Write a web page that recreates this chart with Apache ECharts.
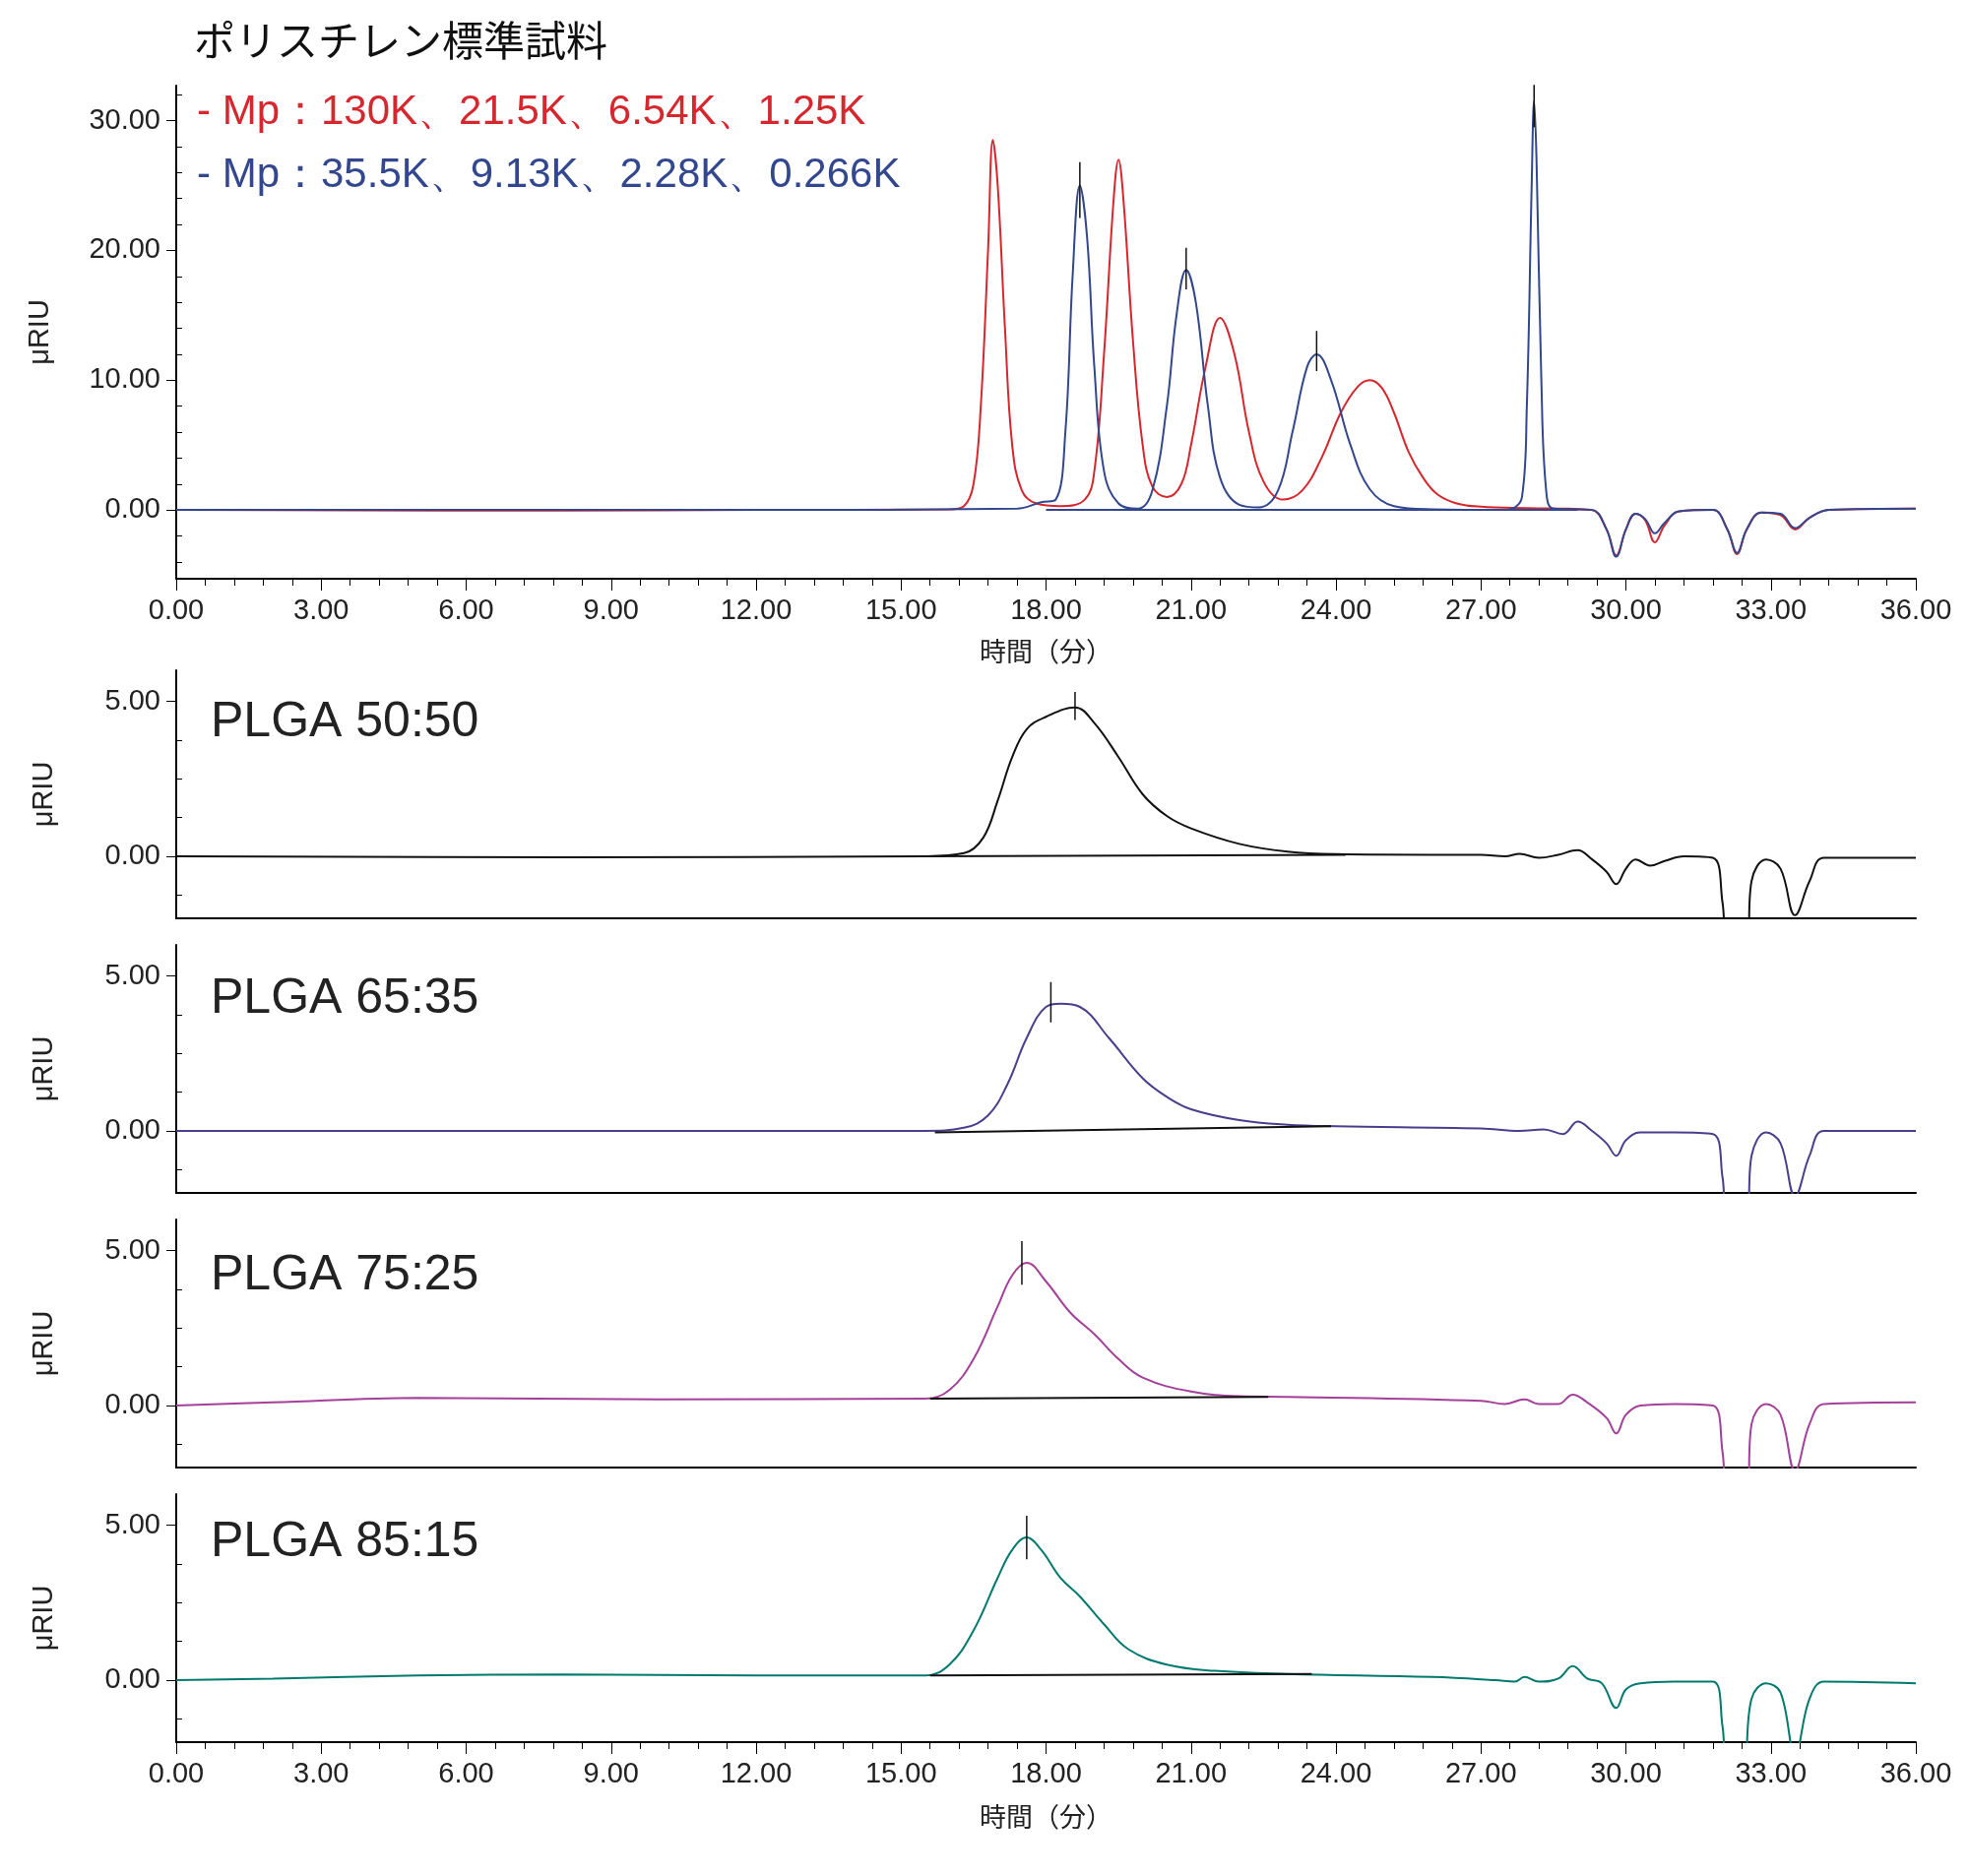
<!DOCTYPE html>
<html><head><meta charset="utf-8">
<script src="https://cdn.jsdelivr.net/npm/echarts@6/dist/echarts.min.js"></script>
<style>html,body{margin:0;background:#fff}#c{width:2000px;height:1906px}</style>
</head><body><div id="c"></div>
<script>
const title = "ポリスチレン標準試料";
const redLabel = "- Mp：130K、21.5K、6.54K、1.25K";
const blueLabel = "- Mp：35.5K、9.13K、2.28K、0.266K";
const panelNames = ["PLGA 50:50","PLGA 65:35","PLGA 75:25","PLGA 85:15"];
const xTicks = [0,3,6,9,12,15,18,21,24,27,30,33,36];

const psRed = [[0,0],[8,-0.05],[12,0],[16,0.05],[16.3,0.3],[16.5,2],[16.65,8],[16.8,20],[16.9,28.5],[17.0,25],[17.15,14],[17.3,5],[17.5,1.5],[17.8,0.5],[18.3,0.3],[18.8,0.8],[19.0,3],[19.2,12],[19.4,24],[19.5,27],[19.6,24],[19.8,13],[20.0,5],[20.2,1.8],[20.5,1],[20.8,2],[21.0,5],[21.3,11],[21.6,14.8],[21.9,12],[22.2,6],[22.5,2.2],[22.9,0.8],[23.3,1.5],[23.7,4],[24.1,7.5],[24.45,9.5],[24.7,10],[24.95,9.4],[25.2,7.5],[25.5,4.5],[25.8,2.5],[26.1,1.2],[26.5,0.5],[27,0.25],[28,0.15],[28.8,0.1],[29.3,0],[29.6,-1.5],[29.8,-3.5],[30.0,-1.5],[30.2,-0.3],[30.4,-0.8],[30.6,-2.5],[30.8,-1.2],[31.1,-0.1],[31.8,0],[32.1,-1.5],[32.3,-3.4],[32.5,-1.5],[32.8,-0.2],[33.2,-0.4],[33.5,-1.5],[33.8,-0.6],[34.2,0],[36,0.1]];
const psBlue = [[0,0],[12,0],[17.4,0.1],[17.9,0.6],[18.2,0.8],[18.4,6],[18.55,18],[18.7,25],[18.85,21],[19.0,11],[19.2,3],[19.5,0.5],[19.9,0.1],[20.2,1.5],[20.5,8],[20.7,15],[20.9,18.5],[21.1,16],[21.35,8],[21.6,2.5],[22,0.4],[22.4,0.2],[22.8,1.5],[23.1,6],[23.4,11],[23.6,12],[23.9,10],[24.3,5],[24.7,1.6],[25.2,0.3],[26,0.05],[27.5,0],[27.85,1],[27.95,8],[28.05,25],[28.1,31.5],[28.15,27],[28.25,10],[28.35,1.5],[28.5,0.1],[29.3,0],[29.6,-1.5],[29.8,-3.6],[30.0,-1.5],[30.2,-0.3],[30.4,-0.7],[30.6,-1.8],[30.8,-1],[31.1,-0.1],[31.8,0],[32.1,-1.5],[32.3,-3.3],[32.5,-1.5],[32.8,-0.2],[33.2,-0.3],[33.5,-1.4],[33.8,-0.6],[34.2,0],[36,0.1]];
const psBlueBase = [[18.0,0],[29.0,0]];
const psMarks = [[18.7,22.5],[18.7,26.8],null,[20.9,17],[20.9,20.2],null,[23.6,10.7],[23.6,13.8],null,[28.1,29.5],[28.1,33]];

const plga5050 = [[0,0],[8,-0.03],[15.5,0],[16.3,0.1],[16.7,0.6],[17.0,1.8],[17.3,3.2],[17.6,4.1],[18.0,4.5],[18.6,4.8],[19.0,4.3],[19.5,3.2],[20.0,2.0],[20.5,1.3],[21.0,0.9],[22.0,0.4],[23.0,0.15],[24.0,0.07],[26,0.05],[27,0.05],[27.5,0],[27.8,0.08],[28.2,-0.05],[28.6,0.05],[29.0,0.2],[29.3,-0.1],[29.6,-0.5],[29.8,-0.9],[30.0,-0.4],[30.2,-0.1],[30.5,-0.3],[30.8,-0.15],[31.2,0],[31.8,-0.05],[32.0,-1.5],[32.1,-3],[32.5,-3],[32.6,-0.8],[32.9,-0.1],[33.2,-0.4],[33.5,-1.9],[33.8,-0.8],[34.1,-0.05],[36,-0.05]];
const plga5050Base = [[15.5,0],[24.2,0.05]];
const plga5050Mark = [[18.6,4.4],[18.6,5.3]];

const plga6535 = [[0,0],[8,0],[15.5,0],[16.3,0.1],[16.8,0.5],[17.2,1.5],[17.6,3.0],[18.0,4.0],[18.3,4.1],[18.7,4.0],[19.3,3.0],[20.0,1.7],[20.5,1.1],[21.0,0.7],[22.0,0.35],[23.0,0.2],[24.0,0.15],[27,0.08],[27.8,0],[28.3,0.05],[28.7,-0.1],[29.0,0.3],[29.3,0],[29.6,-0.4],[29.8,-0.8],[30.0,-0.3],[30.3,-0.05],[31.0,-0.05],[31.8,-0.1],[32.0,-1.5],[32.1,-3],[32.5,-3],[32.6,-0.8],[32.9,-0.05],[33.2,-0.4],[33.5,-2.1],[33.8,-0.8],[34.1,0],[36,0]];
const plga6535Base = [[15.7,-0.05],[23.9,0.15]];
const plga6535Mark = [[18.1,3.5],[18.1,4.8]];

const plga7525 = [[0,0],[2,0.1],[5,0.25],[10,0.2],[15.5,0.22],[16.0,0.5],[16.5,1.5],[17.0,3.2],[17.3,4.2],[17.6,4.6],[18.0,4.0],[18.5,3.0],[19.0,2.3],[19.5,1.5],[20.0,0.9],[21.0,0.45],[22.0,0.3],[23.0,0.28],[27,0.15],[27.5,0.05],[27.9,0.2],[28.2,0.05],[28.6,0.05],[28.9,0.35],[29.2,0.1],[29.6,-0.4],[29.8,-0.9],[30.0,-0.3],[30.3,0],[31.0,0.05],[31.8,0],[32.0,-1.5],[32.1,-3],[32.5,-3],[32.6,-0.6],[32.9,0.05],[33.2,-0.3],[33.5,-2.1],[33.8,-0.6],[34.1,0.05],[36,0.1]];
const plga7525Base = [[15.6,0.22],[22.6,0.28]];
const plga7525Mark = [[17.5,3.9],[17.5,5.3]];

const plga8515 = [[0,0],[2,0.05],[5,0.15],[8,0.18],[12,0.15],[15.5,0.15],[16.0,0.5],[16.5,1.6],[17.0,3.3],[17.3,4.2],[17.6,4.6],[17.9,4.2],[18.3,3.3],[18.7,2.7],[19.2,1.8],[19.7,1.0],[20.5,0.5],[21.5,0.3],[23.0,0.2],[26,0.1],[27.3,0],[27.7,-0.05],[27.9,0.1],[28.2,-0.05],[28.6,0.05],[28.9,0.45],[29.2,0.05],[29.5,-0.1],[29.8,-0.9],[30.0,-0.3],[30.3,-0.1],[31.0,-0.05],[31.8,-0.05],[32.0,-1.5],[32.1,-3],[32.4,-3],[32.6,-0.6],[32.9,-0.1],[33.2,-0.4],[33.5,-2.4],[33.8,-0.6],[34.1,-0.05],[36,-0.1]];
const plga8515Base = [[15.6,0.15],[23.5,0.2]];
const plga8515Mark = [[17.6,3.9],[17.6,5.3]];

const panels = [
  {data:plga5050, base:plga5050Base, mark:plga5050Mark, color:'#111111'},
  {data:plga6535, base:plga6535Base, mark:plga6535Mark, color:'#4a3f8c'},
  {data:plga7525, base:plga7525Base, mark:plga7525Mark, color:'#a4409a'},
  {data:plga8515, base:plga8515Base, mark:plga8515Mark, color:'#007a6e'}
];

const FONT = '"Liberation Sans", Arial, sans-serif';
const grids = [{left:179,right:54,top:87,height:501}];
const gTops = [681,960,1239,1518];
gTops.forEach(t=>grids.push({left:179,right:54,top:t,height:252}));

const xAxis=[], yAxis=[], series=[];
const lbl = {fontSize:29, color:'#222', fontFamily:FONT, margin:18, formatter:v=>v.toFixed(2)};
grids.forEach((g,i)=>{
  const showLbl = (i===0||i===4);
  xAxis.push({gridIndex:i,type:'value',min:0,max:36,interval:3,
    axisLine:{onZero:false,lineStyle:{color:'#000',width:2}},
    axisTick:{show:showLbl,length:12,lineStyle:{color:'#000'}},
    minorTick:{show:showLbl,splitNumber:5,length:7,lineStyle:{color:'#000'}},
    axisLabel:Object.assign({show:showLbl},lbl),
    splitLine:{show:false},
    name:showLbl?'時間（分）':'',nameLocation:'middle',nameGap:i===0?60:62,
    nameTextStyle:{fontSize:27,color:'#222',fontFamily:'"Noto Sans CJK JP", sans-serif'}});
  const top = i===0;
  const min = top?-5.3:-2, max = top?32.7:6;
  const majors = top?[0,10,20,30]:[0,5];
  const minors = top?[-4,-2,2,4,6,8,12,14,16,18,22,24,26,28,32]:[-1.25,1.25,2.5,3.75];
  yAxis.push({gridIndex:i,type:'value',min,max,
    axisLine:{show:true,onZero:false,lineStyle:{color:'#000',width:2}},
    axisTick:{show:true,length:10,customValues:majors,lineStyle:{color:'#000'}},
    axisLabel:Object.assign({},lbl,{customValues:majors,margin:16}),
    splitLine:{show:false},
    name:'μRIU',nameLocation:'middle',nameGap:top?124:120,nameRotate:90,
    nameTextStyle:{fontSize:29,color:'#222',fontFamily:FONT}});
  yAxis.push({gridIndex:i,type:'value',min,max,
    axisLine:{show:false},
    axisTick:{show:true,length:6,customValues:minors,lineStyle:{color:'#000'}},
    axisLabel:{show:false,customValues:minors},splitLine:{show:false}});
});
function line(i,data,color,w,smooth){
  return {type:'line',xAxisIndex:i,yAxisIndex:i*2,data,symbol:'none',smooth:smooth?0.4:false,
    connectNulls:false,clip:true,lineStyle:{color,width:w},silent:true,animation:false};
}
series.push(line(0,psRed,'#d6272e',2,true));
series.push(line(0,psBlue,'#33478f',2,true));
series.push(line(0,psBlueBase,'#33478f',2,false));
series.push(line(0,psMarks,'#111',1.5,false));
panels.forEach((p,k)=>{
  const i=k+1;
  series.push(line(i,p.data,p.color,2,true));
  series.push(line(i,p.base,'#111',2,false));
  series.push(line(i,p.mark,'#111',1.5,false));
});

const graphic=[
  {type:'text',left:197,top:20,style:{text:title,fontSize:42,fill:'#111',fontFamily:'"Noto Sans CJK JP", sans-serif'}},
  {type:'text',left:200,top:93,style:{text:redLabel,fontSize:42,fill:'#d6272e',fontFamily:FONT}},
  {type:'text',left:200,top:157,style:{text:blueLabel,fontSize:42,fill:'#33478f',fontFamily:FONT}}
];
panelNames.forEach((n,k)=>graphic.push({type:'text',left:214,top:[709,990,1271,1542][k],
  style:{text:n,fontSize:50,fill:'#222',fontFamily:FONT}}));

const chart = echarts.init(document.getElementById('c'),null,{renderer:'canvas'});
chart.setOption({animation:false,backgroundColor:'#fff',grid:grids,xAxis,yAxis,series,graphic});
</script></body></html>
